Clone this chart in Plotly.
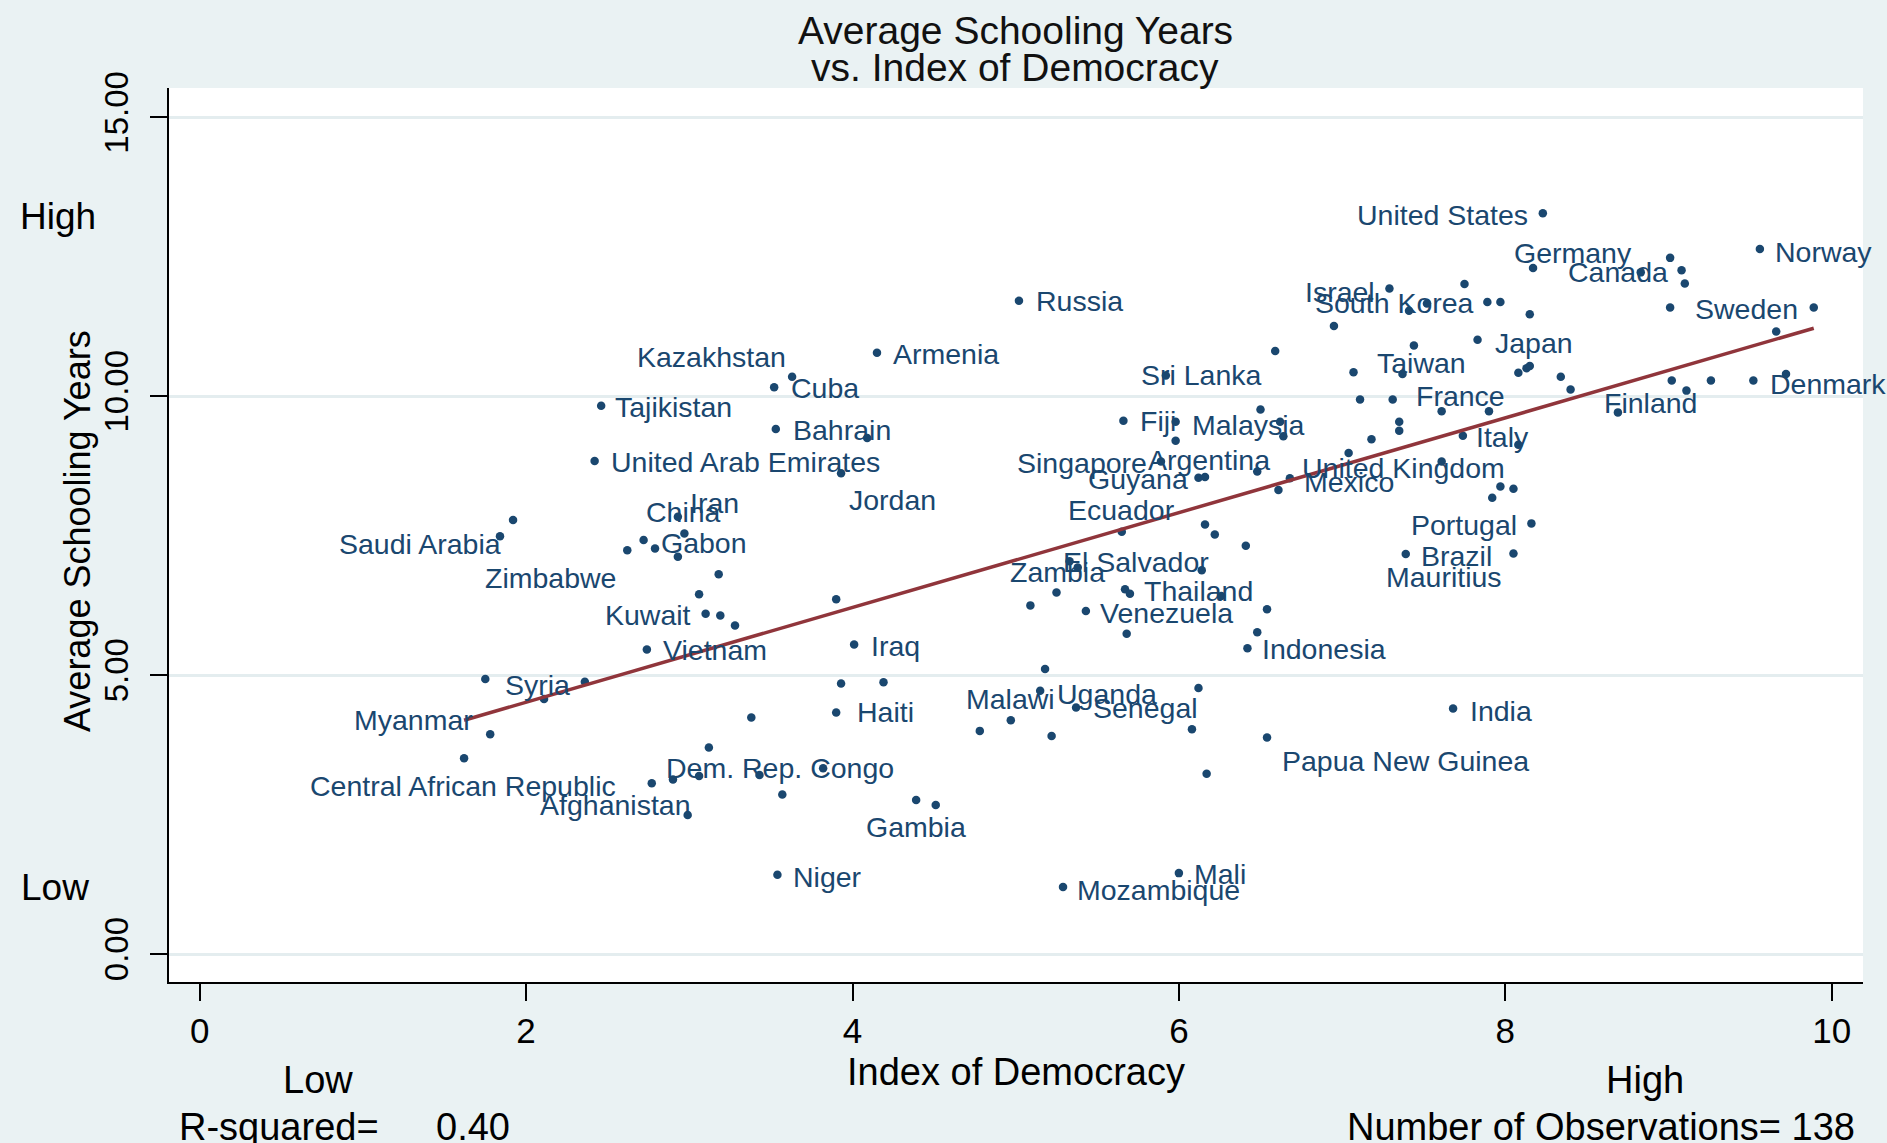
import numpy as np
import plotly.graph_objects as go

# ---------------- data ----------------
democracy = [2.46, 3.52, 3.63, 3.53, 4.09, 2.42, 3.93, 4.15, 5.02, 1.92,
             1.84, 2.93, 2.97, 2.72, 2.79, 2.62, 2.93, 3.18, 3.06, 3.10,
             3.19, 3.28, 2.74, 1.75, 2.36, 2.11, 1.78, 3.38, 3.12, 1.62,
             2.77, 2.90, 3.06, 3.43, 3.57, 2.99, 3.54, 3.82, 4.39, 4.51,
             5.29, 6.00, 3.90, 3.93, 4.19, 4.01, 3.90, 4.97, 4.78, 5.15,
             5.18, 5.22, 5.37, 6.08, 6.12, 6.54, 6.17, 7.68, 6.42, 6.48,
             5.68, 6.54, 5.43, 5.09, 5.25, 5.67, 5.70, 6.26, 5.33, 5.38,
             6.14, 6.41, 6.22, 6.16, 5.65, 5.89, 6.12, 6.16, 6.48, 6.61,
             6.68, 5.66, 5.98, 5.98, 6.50, 6.62, 6.64, 5.92, 6.59, 7.04,
             7.18, 7.35, 7.35, 7.11, 7.31, 7.61, 7.90, 7.74, 8.08, 7.61,
             7.97, 8.05, 7.92, 8.16, 7.39, 8.05, 7.07, 7.37, 7.44, 6.95,
             7.29, 7.41, 7.52, 7.75, 7.89, 7.97, 8.15, 7.83, 8.08, 8.13,
             8.15, 8.34, 8.40, 8.69, 8.23, 8.17, 8.83, 9.01, 9.08, 9.10,
             9.56, 9.01, 9.89, 9.66, 9.02, 9.11, 9.26, 9.52, 9.72]

schooling = [9.83, 10.16, 10.35, 9.41, 9.25, 8.84, 8.62, 10.78, 11.71, 7.78,
             7.49, 7.84, 7.54, 7.42, 7.27, 7.24, 7.12, 6.81, 6.45, 6.10,
             6.07, 5.89, 5.46, 4.93, 4.88, 4.57, 3.94, 4.24, 3.70, 3.51,
             3.06, 3.13, 3.19, 3.21, 2.86, 2.49, 1.42, 3.33, 2.76, 2.67,
             1.20, 1.45, 4.33, 4.85, 4.87, 5.55, 6.36, 4.19, 4.00, 4.72,
             5.11, 3.91, 4.42, 4.03, 4.77, 3.88, 3.23, 4.40, 5.48, 5.77,
             5.74, 6.18, 6.15, 6.25, 6.48, 6.54, 6.46, 6.42, 7.04, 6.93,
             6.88, 7.32, 7.52, 7.70, 7.57, 8.83, 8.54, 8.55, 8.65, 8.32,
             8.53, 9.56, 9.54, 9.20, 9.76, 9.54, 9.28, 10.37, 10.81, 8.98,
             9.23, 9.54, 9.38, 9.94, 9.94, 9.73, 9.73, 9.29, 9.13, 8.83,
             8.38, 8.34, 8.18, 7.72, 7.17, 7.18, 10.43, 10.40, 10.91, 11.26,
             11.93, 11.53, 11.66, 12.01, 11.69, 11.69, 11.47, 11.01, 10.42, 10.50,
             10.54, 10.35, 10.12, 9.71, 13.28, 12.30, 12.22, 12.48, 12.26, 12.02,
             12.64, 11.59, 11.59, 11.16, 10.28, 10.10, 10.28, 10.28, 10.40]

country = ["Tajikistan", "Cuba", "Kazakhstan", "Bahrain", "", "United Arab Emirates", "Jordan", "Armenia", "Russia", "",
           "Saudi Arabia", "China", "Iran", "Gabon", "", "Zimbabwe", "", "", "", "Kuwait",
           "", "", "Vietnam", "", "Syria", "", "Myanmar", "", "", "Central African Republic",
           "", "", "", "Dem. Rep. Congo", "", "Afghanistan", "Niger", "", "Gambia", "",
           "Mozambique", "Mali", "Haiti", "", "", "Iraq", "", "Malawi", "", "Uganda",
           "", "", "Senegal", "", "", "Papua New Guinea", "", "India", "Indonesia", "",
           "", "", "Venezuela", "", "Zambia", "", "Thailand", "", "El Salvador", "",
           "", "", "", "", "Ecuador", "Singapore", "Guyana", "", "Argentina", "",
           "Mexico", "Fiji", "Malaysia", "", "", "", "", "Sri Lanka", "", "",
           "", "", "", "", "", "France", "", "Italy", "", "United Kingdom",
           "", "", "", "Portugal", "Brazil", "Mauritius", "", "Taiwan", "", "",
           "Israel", "South Korea", "", "", "", "", "", "Japan", "", "",
           "", "", "", "Finland", "United States", "Germany", "Canada", "", "", "",
           "Norway", "", "Sweden", "", "", "", "", "Denmark", ""]

x_ticks = [0, 2, 4, 6, 8, 10]
y_ticks = [0, 5, 10, 15]
y_tick_text = ["0.00", "5.00", "10.00", "15.00"]

title_lines = ["Average Schooling Years", "vs. Index of Democracy"]
x_title = "Index of Democracy"
y_title = "Average Schooling Years"
r2_text = "R-squared="
r2_value = "0.40"
n_text = "Number of Observations= 138"

# ---------------- label placement (anchor, dx, dy in px; dy down) ----------------
label_place = {
    "United States": ("right", -14, 2), "Germany": ("center", 40, -15),
    "Canada": ("center", -23, 0), "Norway": ("left", 14, 3),
    "Sweden": ("right", -15, 1), "Denmark": ("left", 16, 3),
    "Finland": ("center", 33, -9), "Japan": ("left", 16, 3),
    "Israel": ("right", -13, 3), "South Korea": ("center", -15, -8),
    "Taiwan": ("center", 19, -11), "France": ("center", 19, -15),
    "Italy": ("left", 12, 1), "United Kingdom": ("center", -38, 7),
    "Mexico": ("left", 13, 4), "Portugal": ("right", -13, 2),
    "Brazil": ("left", 14, 2), "Mauritius": ("center", -69, 23),
    "India": ("left", 16, 2), "Papua New Guinea": ("left", 14, 23),
    "Indonesia": ("left", 14, 1), "Venezuela": ("left", 13, 2),
    "Thailand": ("left", 13, -3), "El Salvador": ("center", 66, 1),
    "Zambia": ("center", 1, -21), "Ecuador": ("center", 0, -22),
    "Uganda": ("left", 16, 3), "Senegal": ("left", 16, 1),
    "Malawi": ("center", 0, -21), "Iraq": ("left", 16, 2),
    "Haiti": ("left", 20, 0), "Jordan": ("center", 51, 27),
    "Bahrain": ("left", 16, 1), "United Arab Emirates": ("left", 15, 1),
    "Tajikistan": ("left", 13, 1), "Cuba": ("left", 16, 1),
    "Kazakhstan": ("center", -81, -20), "Armenia": ("left", 15, 1),
    "Russia": ("left", 16, 0), "Sri Lanka": ("center", 36, -1),
    "Fiji": ("left", 16, 0), "Malaysia": ("left", 15, 3),
    "Singapore": ("right", -13, 2), "Argentina": ("center", -48, -12),
    "Guyana": ("right", -9, 1), "China": ("center", 6, -5),
    "Iran": ("center", 30, -30), "Gabon": ("left", 16, 3),
    "Saudi Arabia": ("right", 2, 8), "Zimbabwe": ("right", -10, 28),
    "Kuwait": ("right", -14, 1), "Vietnam": ("left", 15, 1),
    "Syria": ("right", -14, 3), "Myanmar": ("right", -16, -14),
    "Central African Republic": ("center", -1, 28),
    "Afghanistan": ("right", 4, -10), "Dem. Rep. Congo": ("center", 21, -7),
    "Niger": ("left", 15, 2), "Gambia": ("center", 0, 27),
    "Mozambique": ("left", 13, 3), "Mali": ("left", 14, 1),
}

# ---------------- style ----------------
FONT = "Liberation Sans, Arial, sans-serif"
NAVY = "#1A476F"
MAROON = "#90353B"
BG = "#EAF2F3"
GRID = "#E4EDEF"

W_FIG, H_FIG = 1887, 1143
L, R, T, B = 169, 24, 88, 161
PW, PH = W_FIG - L - R, H_FIG - T - B


def pxx(p):
    return (p - L) / PW


def pxy(p):
    return (H_FIG - B - p) / PH


x = np.array(democracy)
y = np.array(schooling)
slope, intercept = np.polyfit(x, y, 1)
xl = np.array([x.min(), x.max()])
yl = intercept + slope * xl

fig = go.Figure()
fig.add_trace(go.Scatter(x=democracy, y=schooling, mode="markers",
                         marker=dict(size=8.5, color=NAVY, line=dict(width=0)),
                         hoverinfo="skip", showlegend=False))
fig.add_trace(go.Scatter(x=xl, y=yl, mode="lines",
                         line=dict(color=MAROON, width=3.5),
                         hoverinfo="skip", showlegend=False))

ann = []
for xi, yi, name in zip(democracy, schooling, country):
    if not name:
        continue
    anchor, dx, dy = label_place.get(name, ("left", 14, 0))
    ann.append(dict(x=xi, y=yi, xref="x", yref="y", text=name, showarrow=False,
                    xanchor=anchor, yanchor="middle", xshift=dx, yshift=-dy,
                    borderpad=0, font=dict(family=FONT, size=28.5, color=NAVY)))


def txt(text, xp, yp, size, anchor="center", angle=0, color="#000000"):
    return dict(x=pxx(xp), y=pxy(yp), xref="paper", yref="paper", text=text,
                showarrow=False, xanchor=anchor, yanchor="middle", textangle=angle,
                borderpad=0, font=dict(family=FONT, size=size, color=color))


ann += [
    txt(title_lines[0], 1015, 31, 39, color="#111111"),
    txt(title_lines[1], 1015, 67, 39, color="#111111"),
    txt(y_title, 77, 531, 36, angle=-90),
    txt("High", 58, 217, 37),
    txt("Low", 55, 887, 37),
    txt(x_title, 1016, 1072, 38),
    txt("Low", 318, 1080, 38),
    txt("High", 1645, 1080, 38),
    txt(r2_text, 178, 1127, 38, anchor="left"),
    txt(r2_value, 435, 1127, 38, anchor="left"),
    txt(n_text, 1856, 1127, 38, anchor="right"),
]

x0 = 199.7
xs = 163.2
y0 = 954.0
ys = 55.78
xr = [(L - x0) / xs, (L + PW - x0) / xs]
yr = [(y0 - (T + PH)) / ys, (y0 - T) / ys]

fig.update_layout(
    width=W_FIG, height=H_FIG,
    margin=dict(l=L, r=R, t=T, b=B, pad=0),
    paper_bgcolor=BG, plot_bgcolor="white",
    font=dict(family=FONT, color="#000000"),
    annotations=ann,
    showlegend=False,
    xaxis=dict(range=xr, tickvals=x_ticks, ticktext=[str(v) for v in x_ticks],
               showgrid=False, zeroline=False, showline=True, linecolor="#000000",
               linewidth=2, ticks="outside", ticklen=17, tickwidth=2, tickcolor="#000000",
               tickfont=dict(size=35, family=FONT, color="#000000"), fixedrange=True),
    yaxis=dict(range=yr, tickvals=y_ticks, ticktext=y_tick_text, tickangle=-90,
               showgrid=True, gridcolor=GRID, gridwidth=3, zeroline=False,
               showline=True, linecolor="#000000", linewidth=2, ticks="outside",
               ticklen=17, tickwidth=2, tickcolor="#000000", ticklabelstandoff=9,
               tickfont=dict(size=33, family=FONT, color="#000000"), fixedrange=True),
)

fig.write_html(
    "out.html",
    config={"displayModeBar": False},
    post_script="document.body.style.margin='0';document.body.style.overflow='hidden';",
)
